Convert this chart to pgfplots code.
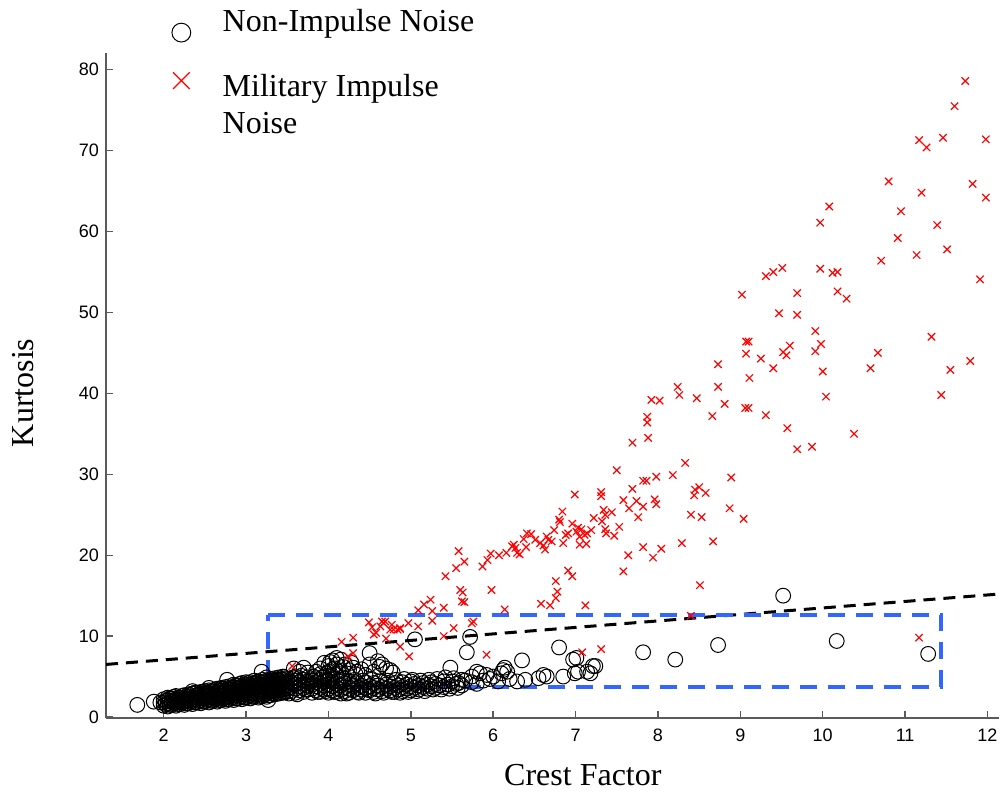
\documentclass[border=0pt]{standalone}
\usepackage{fontspec}
\setmainfont{Liberation Serif}
\setsansfont{Liberation Sans}
\usepackage{pgfplots}
\pgfplotsset{compat=1.18}
\definecolor{myblue}{RGB}{51,102,255}
\definecolor{axgray}{RGB}{90,90,90}
\begin{document}
\begin{tikzpicture}
\begin{axis}[
  scale only axis,
  width=446.5pt, height=332.5pt,
  xmin=1.3, xmax=12.14, ymin=-0.12, ymax=82.07,
  axis x line*=bottom, axis y line*=left,
  axis line style={draw=axgray, line width=0.7pt, -},
  tick style={draw=axgray, line width=0.7pt},
  tick align=inside,
  major tick length=3.5pt,
  xtick={2,...,12}, ytick={0,10,...,80},
  ticklabel style={font=\fontsize{9}{10}\selectfont\sffamily},
  xticklabel style={yshift=-2pt},
  /pgf/number format/assume math mode=true,
  xlabel={Crest Factor}, ylabel={Kurtosis},
  label style={font=\fontsize{16}{19}\selectfont},
  xlabel style={at={(axis description cs:0.534,-0.102)}, anchor=base},
  ylabel style={at={(axis description cs:-0.0812,0.489)}, anchor=base},
  legend style={draw=none, fill=none, inner sep=0pt, font=\fontsize{16}{18.5}\selectfont,
    at={(axis description cs:0.0734,1.072)}, anchor=north west, row sep=14pt, column sep=14pt,
    cells={align=left}},
  legend cell align=left,
  clip=false,
]
\addplot[only marks, mark=o, mark size=3.7pt, black, mark options={line width=0.5pt},
  legend image code/.code={\draw[mark size=4.7pt, mark repeat=2, mark phase=2, yshift=-5.25pt] plot coordinates {(0cm,0cm) (0.3cm,0cm) (0.6cm,0cm)};}]
coordinates {
(1.68,1.5)(1.88,1.9)(1.96,1.8)(2.77,4.6)(3.19,5.6)(3.27,2.1)(2.55,3.6)(2.35,3.2)
(2.00,1.4)(2.00,1.8)(2.00,2.2)
(2.05,1.3)(2.05,1.7)(2.05,2.1)(2.05,2.4)
(2.10,1.5)(2.10,1.9)(2.10,2.3)
(2.15,1.4)(2.15,1.8)(2.15,2.2)(2.15,2.6)
(2.20,1.6)(2.20,2.0)(2.20,2.4)
(2.25,1.5)(2.25,1.9)(2.25,2.3)(2.25,2.7)
(2.30,1.7)(2.30,2.1)(2.30,2.5)(2.30,2.8)
(2.35,1.6)(2.35,2.0)(2.35,2.4)(2.35,2.9)
(2.40,1.8)(2.40,2.2)(2.40,2.6)(2.40,3.0)
(2.45,1.7)(2.45,2.1)(2.45,2.5)(2.45,2.9)(2.45,3.1)
(2.50,1.9)(2.50,2.3)(2.50,2.7)(2.50,3.2)
(2.55,1.8)(2.55,2.2)(2.55,2.6)(2.55,3.0)(2.55,3.3)
(2.60,2.0)(2.60,2.4)(2.60,2.8)(2.60,3.2)
(2.65,1.9)(2.65,2.3)(2.65,2.7)(2.65,3.1)(2.65,3.5)
(2.70,2.1)(2.70,2.5)(2.70,2.9)(2.70,3.3)(2.70,3.6)
(2.75,2.0)(2.75,2.4)(2.75,2.8)(2.75,3.2)(2.75,3.7)
(2.80,2.2)(2.80,2.6)(2.80,3.0)(2.80,3.4)(2.80,3.8)
(2.85,2.1)(2.85,2.5)(2.85,2.9)(2.85,3.3)(2.85,3.7)(2.85,4.0)
(2.90,2.3)(2.90,2.7)(2.90,3.1)(2.90,3.5)(2.90,3.9)
(2.95,2.2)(2.95,2.6)(2.95,3.0)(2.95,3.4)(2.95,3.8)(2.95,4.2)
(3.00,2.4)(3.00,2.8)(3.00,3.2)(3.00,3.6)(3.00,4.0)(3.00,4.3)
(3.05,2.3)(3.05,2.7)(3.05,3.1)(3.05,3.5)(3.05,3.9)(3.05,4.3)
(3.10,2.5)(3.10,2.9)(3.10,3.3)(3.10,3.7)(3.10,4.1)(3.10,4.5)
(3.15,2.4)(3.15,2.8)(3.15,3.2)(3.15,3.6)(3.15,4.0)(3.15,4.4)
(3.20,2.6)(3.20,3.0)(3.20,3.4)(3.20,3.8)(3.20,4.2)(3.20,4.6)
(3.25,2.5)(3.25,2.9)(3.25,3.3)(3.25,3.7)(3.25,4.1)(3.25,4.5)(3.25,4.9)
(3.30,2.7)(3.30,3.1)(3.30,3.5)(3.30,3.9)(3.30,4.3)(3.30,4.7)
(3.35,2.8)(3.35,3.2)(3.35,3.6)(3.35,4.0)(3.35,4.4)(3.35,4.8)
(3.40,2.9)(3.40,3.3)(3.40,3.7)(3.40,4.1)(3.40,4.5)(3.40,4.9)
(3.45,3.0)(3.45,3.4)(3.45,3.8)(3.45,4.2)(3.45,4.6)(3.45,5.0)
(3.50,3.1)(3.50,3.5)(3.50,3.9)(3.50,4.3)(3.50,4.7)
(2.025,1.6)(2.025,2.0)
(2.075,1.5)(2.075,1.9)(2.075,2.3)
(2.125,1.7)(2.125,2.1)(2.125,2.5)
(2.175,1.6)(2.175,2.0)(2.175,2.4)
(2.225,1.8)(2.225,2.2)(2.225,2.6)
(2.275,1.7)(2.275,2.1)(2.275,2.5)
(2.325,1.9)(2.325,2.3)(2.325,2.7)
(2.375,1.8)(2.375,2.2)(2.375,2.6)(2.375,3.0)
(2.425,2.0)(2.425,2.4)(2.425,2.8)
(2.475,1.9)(2.475,2.3)(2.475,2.7)(2.475,3.1)
(2.525,2.1)(2.525,2.5)(2.525,2.9)
(2.575,2.0)(2.575,2.4)(2.575,2.8)(2.575,3.2)
(2.625,2.2)(2.625,2.6)(2.625,3.0)(2.625,3.4)
(2.675,2.1)(2.675,2.5)(2.675,2.9)(2.675,3.3)
(2.725,2.3)(2.725,2.7)(2.725,3.1)(2.725,3.5)
(2.775,2.2)(2.775,2.6)(2.775,3.0)(2.775,3.4)
(2.825,2.4)(2.825,2.8)(2.825,3.2)(2.825,3.6)
(2.875,2.3)(2.875,2.7)(2.875,3.1)(2.875,3.5)(2.875,3.9)
(2.925,2.5)(2.925,2.9)(2.925,3.3)(2.925,3.7)(2.925,4.1)
(2.975,2.4)(2.975,2.8)(2.975,3.2)(2.975,3.6)(2.975,4.0)
(3.025,2.6)(3.025,3.0)(3.025,3.4)(3.025,3.8)(3.025,4.2)
(3.075,2.5)(3.075,2.9)(3.075,3.3)(3.075,3.7)(3.075,4.1)
(3.125,2.7)(3.125,3.1)(3.125,3.5)(3.125,3.9)(3.125,4.3)
(3.175,2.6)(3.175,3.0)(3.175,3.4)(3.175,3.8)(3.175,4.2)
(3.225,2.8)(3.225,3.2)(3.225,3.6)(3.225,4.0)(3.225,4.4)
(3.275,2.7)(3.275,3.1)(3.275,3.5)(3.275,3.9)(3.275,4.3)
(3.325,2.9)(3.325,3.3)(3.325,3.7)(3.325,4.1)(3.325,4.5)
(3.375,3.0)(3.375,3.4)(3.375,3.8)(3.375,4.2)(3.375,4.6)
(3.425,3.1)(3.425,3.5)(3.425,3.9)(3.425,4.3)(3.425,4.7)
(3.475,3.2)(3.475,3.6)(3.475,4.0)(3.475,4.4)(3.475,4.8)
(3.55,3.2)(3.55,3.7)(3.55,4.2)(3.55,4.7)
(3.60,3.0)(3.60,3.5)(3.60,4.0)(3.60,4.5)(3.60,5.0)
(3.65,3.3)(3.65,3.8)(3.65,4.3)(3.65,4.8)
(3.70,3.1)(3.70,3.6)(3.70,4.1)(3.70,4.6)(3.70,6.1)
(3.75,3.4)(3.75,3.9)(3.75,4.4)(3.75,4.9)
(3.80,3.0)(3.80,3.5)(3.80,4.0)(3.80,4.5)
(3.85,3.3)(3.85,3.8)(3.85,4.3)(3.85,4.8)
(3.90,3.1)(3.90,3.6)(3.90,4.1)(3.90,4.6)(3.90,5.3)(3.90,6.0)
(3.95,3.4)(3.95,3.9)(3.95,4.4)(3.95,5.0)(3.95,6.7)
(4.00,3.0)(4.00,3.5)(4.00,4.0)(4.00,4.5)(4.00,5.6)(4.00,6.3)
(4.05,3.3)(4.05,3.8)(4.05,4.3)(4.05,4.8)(4.05,5.9)(4.05,7.0)
(4.10,3.1)(4.10,3.6)(4.10,4.1)(4.10,5.2)(4.10,6.5)(4.10,7.3)
(4.15,2.9)(4.15,3.4)(4.15,3.9)(4.15,4.6)(4.15,5.7)(4.15,7.1)
(4.20,3.2)(4.20,3.7)(4.20,4.2)(4.20,6.5)
(4.25,3.0)(4.25,3.5)(4.25,4.4)(4.25,5.8)
(4.30,3.3)(4.30,3.8)(4.30,6.1)
(4.35,3.1)(4.35,3.6)(4.35,4.2)(4.35,5.6)
(4.40,3.4)(4.40,3.9)
(4.45,3.0)(4.45,3.6)(4.45,4.3)
(4.50,3.3)(4.50,3.8)(4.50,6.5)(4.50,7.9)
(4.55,3.1)(4.55,3.6)(4.55,4.2)
(4.60,3.4)(4.60,3.9)(4.60,6.9)
(4.65,3.2)(4.65,3.7)(4.65,6.5)
(4.70,3.5)(4.70,4.0)
(4.75,3.3)(4.75,3.8)(4.75,5.8)
(4.80,3.1)(4.80,3.6)(4.80,4.2)
(4.85,3.4)(4.85,3.9)
(4.90,3.2)(4.90,3.7)(4.90,4.3)
(4.95,3.5)(4.95,4.0)
(5.00,3.3)(5.00,3.8)(5.00,4.4)
(5.05,3.6)(5.05,4.1)(5.05,9.6)
(5.10,3.4)(5.10,3.9)
(5.15,3.7)(5.15,4.2)
(5.20,3.5)(5.20,4.0)
(5.25,3.8)(5.25,4.3)
(5.30,3.6)(5.30,4.1)
(5.35,3.9)(5.40,3.7)(5.40,4.4)(5.45,4.0)
(3.52,2.9)(3.57,4.9)(3.62,2.8)(3.67,5.1)(3.72,3.4)(3.77,4.2)(3.82,5.0)
(3.87,3.1)(3.92,4.9)(3.97,3.2)(4.02,4.7)(4.07,3.1)(4.12,4.4)(4.17,4.9)
(4.22,2.9)(4.27,4.0)(4.32,4.6)(4.37,3.0)(4.42,4.5)(4.47,3.4)(4.52,4.6)
(4.57,2.9)(4.62,4.4)(4.67,3.0)(4.72,4.5)(4.77,3.1)(4.82,4.6)(4.87,3.0)
(4.92,4.7)(4.97,3.1)(5.02,4.6)(5.07,3.2)(5.12,4.5)(5.17,3.2)(5.22,4.6)
(5.27,3.4)(5.32,4.7)(5.37,3.4)(5.42,4.9)(5.47,3.5)(5.52,4.8)(5.57,3.6)
(4.02,6.8)(4.08,6.0)(4.12,5.6)(4.18,6.2)(4.22,5.4)(4.28,6.7)(4.33,5.3)
(4.40,5.9)(4.45,5.2)(4.55,5.6)(4.62,6.2)(4.70,6.0)(4.78,5.5)(3.98,5.4)
(3.85,5.6)(3.75,5.5)(3.65,5.6)(3.58,6.0)
(5.48,6.1)(5.50,4.4)(5.50,3.8)(5.55,4.1)(5.58,4.2)
(5.62,3.9)(5.62,4.6)(5.66,4.5)(5.68,8.0)(5.72,9.9)
(5.74,5.0)(5.74,4.3)(5.80,5.6)(5.80,4.1)(5.84,5.4)(5.88,4.5)
(5.92,5.2)(5.96,4.7)(6.00,5.0)(6.06,4.4)(6.10,5.4)(6.12,5.8)
(6.14,6.1)(6.17,5.6)(6.20,4.7)(6.29,4.4)(6.35,7.0)(6.39,4.6)
(6.55,4.8)(6.61,5.2)(6.65,5.0)(6.80,8.6)(6.85,5.0)
(6.97,7.1)(7.01,7.3)(6.99,5.4)(7.03,5.6)
(7.14,5.6)(7.18,5.4)(7.21,6.3)(7.24,6.3)
(7.82,8.0)(8.21,7.1)(8.73,8.9)(9.52,15.0)(10.17,9.4)(11.28,7.8)
};
\addlegendentry{Non-Impulse Noise}
\addplot[only marks, mark=x, mark size=2.6pt, red, mark options={line width=0.6pt},
  legend image code/.code={\draw[mark size=5.9pt, mark repeat=2, mark phase=2, yshift=12.25pt] plot coordinates {(0cm,0cm) (0.3cm,0cm) (0.6cm,0cm)};}]
coordinates {
(11.73,78.6)(11.60,75.5)(11.17,71.3)(11.26,70.4)(11.46,71.6)(11.98,71.4)
(10.80,66.2)(11.20,64.8)(11.82,65.9)(11.98,64.2)(10.08,63.1)(9.97,61.1)
(10.95,62.5)(11.39,60.8)(10.91,59.2)(10.71,56.4)(11.14,57.1)(11.51,57.8)
(9.31,54.5)(9.40,55.0)(9.51,55.5)(9.97,55.4)(10.12,54.9)(10.18,55.0)
(9.02,52.2)(9.69,52.4)(10.18,52.6)(10.29,51.7)(11.91,54.1)(9.47,49.9)
(9.69,49.7)(9.91,47.7)(9.07,46.4)(9.10,46.4)(9.60,45.9)(9.52,45.1)
(9.56,44.7)(9.91,45.2)(9.98,46.1)(9.07,44.9)(9.25,44.3)(8.73,43.6)
(9.11,41.9)(9.40,43.1)(10.00,42.7)(10.67,45.0)(10.58,43.1)(11.32,47.0)
(11.79,44.0)(11.55,42.9)(11.44,39.8)(8.73,40.8)(10.04,39.6)(8.81,38.7)
(9.06,38.2)(9.10,38.2)(8.66,37.2)(9.31,37.3)(9.57,35.7)(10.38,35.0)
(9.69,33.1)(9.87,33.4)(8.24,40.8)(8.26,39.8)(7.92,39.2)(8.02,39.1)
(8.47,39.4)(7.87,37.1)(7.87,36.4)(7.88,34.5)(7.69,33.9)(7.50,30.5)
(8.33,31.4)(7.82,29.2)(7.86,29.2)(7.98,29.7)(8.18,29.9)(8.89,29.6)
(7.69,28.2)(7.31,27.8)(7.31,27.3)(6.99,27.5)(8.45,28.1)(8.50,28.4)
(8.58,27.7)(8.44,27.4)(7.58,26.8)(7.74,26.7)(7.96,26.9)(7.98,26.3)
(7.82,26.0)(7.65,25.8)(8.87,25.8)(9.04,24.5)(8.40,25.0)(8.53,24.7)
(7.34,25.6)(7.36,25.0)(7.32,24.2)(7.44,25.3)(7.76,24.7)(7.22,24.6)
(6.84,25.4)(6.80,24.4)(6.81,24.1)(7.36,23.2)(7.37,22.7)(7.53,23.5)
(7.47,22.4)(6.96,23.9)(7.03,23.4)(7.07,23.2)(7.01,22.9)(7.19,23.1)
(7.14,22.7)(7.05,22.3)(7.11,22.5)(6.91,22.7)(6.88,22.5)(6.85,21.5)
(6.74,23.1)(6.65,22.3)(6.67,21.9)(6.71,21.7)(7.05,21.3)(7.13,21.4)
(6.57,21.5)(6.63,20.7)(6.61,21.2)(6.46,22.6)(6.41,22.7)(6.37,22.0)
(6.51,21.9)(6.40,21.0)(6.25,21.3)(6.23,21.1)(6.27,20.9)(6.29,20.3)
(6.32,20.1)(6.16,20.3)(6.07,20.0)(5.97,20.2)(5.93,19.4)(5.87,18.6)
(5.58,20.5)(5.65,19.2)(5.55,18.4)(5.42,17.4)(5.98,15.7)(5.60,15.7)
(5.63,15.4)(5.62,14.3)(5.65,14.2)(6.91,18.1)(6.96,17.4)(6.76,16.8)
(6.78,15.5)(6.76,14.7)(6.69,13.8)(6.58,14.0)(7.12,13.8)(7.58,18.0)
(7.64,20.0)(7.82,21.0)(7.94,19.7)(8.04,20.8)(8.29,21.5)(8.67,21.7)
(8.51,16.3)(6.14,13.3)(5.40,13.5)(5.24,14.5)(5.16,13.9)(5.09,13.2)
(5.26,13.1)(4.87,11.0)(4.97,11.6)(5.09,11.2)(5.26,11.9)(5.52,11.0)
(5.74,11.6)(5.76,11.8)(5.40,10.0)(4.87,8.7)(4.98,7.5)(5.92,7.7)
(7.08,8.0)(7.31,8.4)(8.40,12.5)(11.17,9.8)(4.49,11.7)(4.53,11.1)
(4.58,10.4)(4.55,10.2)(4.63,11.2)(4.65,11.8)(4.69,11.8)(4.67,11.6)
(4.77,11.4)(4.75,10.8)(4.79,10.8)(4.84,10.8)(4.87,10.9)(4.70,9.7)
(4.16,9.3)(4.30,9.8)(4.30,7.9)(4.24,7.5)(3.56,6.3)
};
\addlegendentry{Military Impulse\\Noise}
\addplot[black, line width=1.5pt, dash pattern=on 6pt off 4pt, forget plot]
coordinates {(1.3,6.5) (12.14,15.2)};
\addplot[myblue, line width=2pt, dash pattern=on 8.5pt off 5.5pt, forget plot]
coordinates {(3.27,12.65) (11.43,12.65) (11.43,3.66) (3.27,3.66) (3.27,12.65)};
\end{axis}
\pgfresetboundingbox
\path[use as bounding box] (-53pt,-39.5pt) rectangle (447.5pt,359pt);
\end{tikzpicture}
\end{document}
